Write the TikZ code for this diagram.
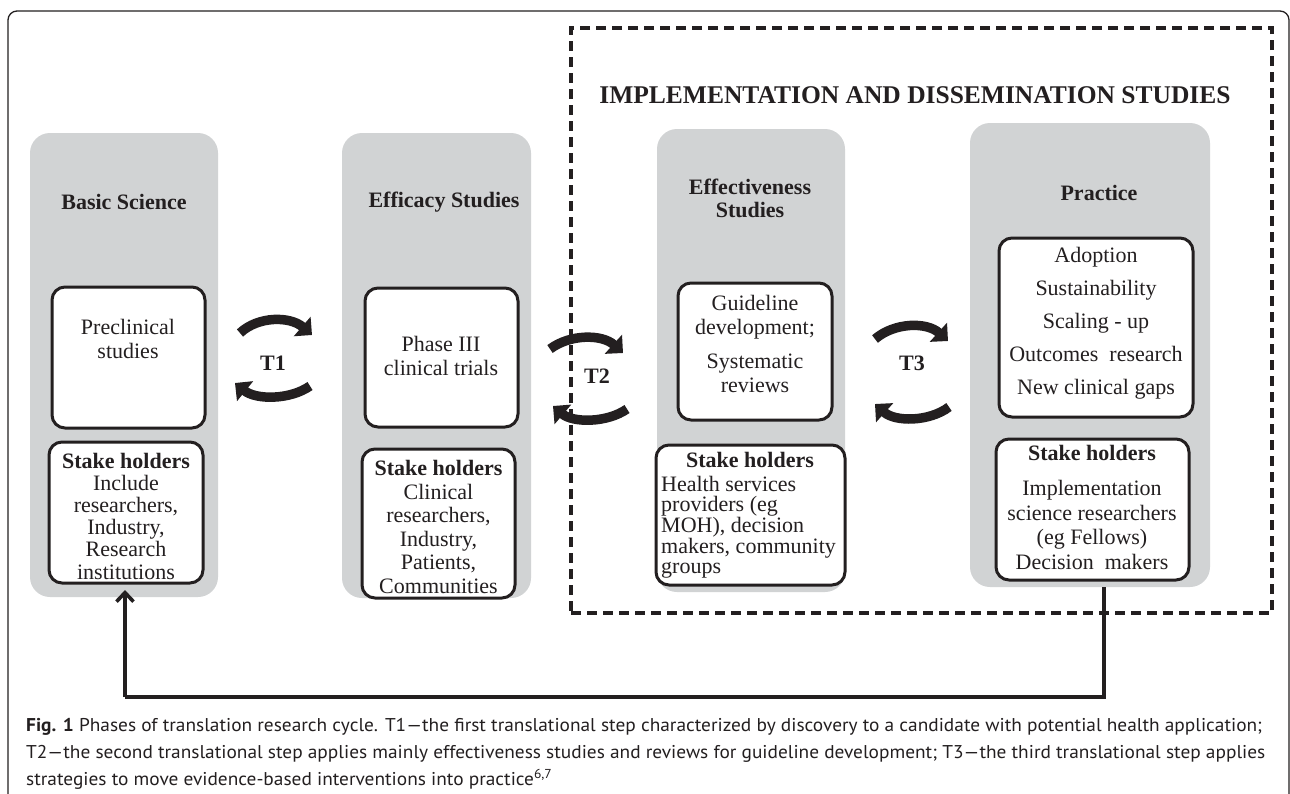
\documentclass[tikz,border=0pt]{standalone}
\usepackage{fontspec}
\usepackage{graphicx}
\setmainfont{Liberation Serif}
\newfontfamily\capfont{PT Sans}
\usetikzlibrary{arrows.meta}
\definecolor{gcol}{RGB}{209,211,212}
\definecolor{ink}{RGB}{35,31,32}
\newsavebox\capboxA
\newcommand\capscaled[1]{\scalebox{\capsc}[1]{#1}}
\begin{document}
\sbox\capboxA{\capfont\fontsize{18.5}{22}\selectfont\textbf{Fig. 1} Phases of translation research cycle. T1—the first translational step characterized by discovery to a candidate with potential health application;}%
\pgfmathsetmacro\capsc{1236/\the\wd\capboxA}%
\begin{tikzpicture}[x=1pt,y=-1pt,
  graycol/.style={fill=gcol, draw=none, rounded corners=20pt, inner sep=0pt},
  wbox/.style={fill=white, draw=ink, line width=3pt, rounded corners=13pt, inner sep=0pt},
  lbl/.style={font=\fontsize{22}{24}\selectfont\bfseries, text=ink, inner sep=0pt},
  txt/.style={font=\fontsize{22}{24}\selectfont, text=ink, align=center, inner sep=0pt},
  tarrow/.style={draw=ink, line width=9.5pt, -{Triangle[length=13pt,width=25pt]}},
  conn/.style={draw=ink, line width=3.6pt},
  dashbox/.style={draw=ink, line width=3.2pt, dash pattern=on 10pt off 6pt, inner sep=0pt},
  captext/.style={font=\capfont\fontsize{18.5}{22}\selectfont, text=ink, inner sep=0pt, anchor=base west}
]
\useasboundingbox (0,0) rectangle (1290,793);
\fill[white] (0,0) rectangle (1290,793);
% outer frame
\draw[ink, line width=1.3pt, rounded corners=9pt] (8,800) -- (8,11) -- (1289,11) -- (1289,800);

% grey columns
\node[graycol, minimum width=188pt, minimum height=464pt] (c1) at (124,365) {};
\node[graycol, minimum width=189pt, minimum height=465pt] (c2) at (436.5,365.5) {};
\node[graycol, minimum width=188pt, minimum height=463pt] (c3) at (751,360.5) {};
\node[graycol, minimum width=240pt, minimum height=464pt] (c4) at (1090,355) {};

% column titles
\node[lbl] (h1) at (124,202) {Basic Science};
\node[lbl] (h2) at (444,202) {Efficacy Studies};
\node[lbl, align=center, font=\fontsize{22}{23}\selectfont\bfseries] (h3) at (750,198) {Effectiveness\\Studies};
\node[lbl] (h4) at (1099,193) {Practice};

% white boxes
\node[wbox, minimum width=153pt, minimum height=141pt] (b1) at (128.5,357.5) {};
\node[wbox, minimum width=154pt, minimum height=141pt] (s1) at (126,512.5) {};
\node[wbox, minimum width=153pt, minimum height=139pt] (b2) at (441.5,357.5) {};
\node[wbox, minimum width=153pt, minimum height=149pt] (s2) at (438.5,523.5) {};
\node[wbox, minimum width=154pt, minimum height=137pt] (b3) at (755,351.5) {};
\node[wbox, minimum width=189pt, minimum height=140pt] (s3) at (750.5,515) {};
\node[wbox, minimum width=194pt, minimum height=179pt] (b4) at (1096,327.5) {};
\node[wbox, minimum width=193pt, minimum height=141pt] (s4) at (1092.5,509.5) {};

% box texts
\node[txt] (b1t) at (128,339) {Preclinical\\studies};
\node[txt] (b2t) at (441,356) {Phase III\\clinical trials};
\node[txt] (b3ta) at (755,317) {Guideline\\development;};
\node[txt] (b3tb) at (755,373) {Systematic\\reviews};
\node[txt, font=\fontsize{22}{33}\selectfont] (b4t) at (1096,323) {Adoption\\Sustainability\\Scaling - up\\Outcomes\ \ research\\New clinical gaps};

\node[txt, font=\fontsize{22}{22.2}\selectfont] (s1t) at (126,516) {\textbf{Stake holders}\\Include\\researchers,\\Industry,\\Research\\institutions};
\node[txt, font=\fontsize{22}{23.6}\selectfont] (s2t) at (438.5,527) {\textbf{Stake holders}\\Clinical\\researchers,\\Industry,\\Patients,\\Communities};
\node[lbl] (s3h) at (750,460) {Stake holders};
\node[txt, align=left, anchor=west, font=\fontsize{22}{19.8}\selectfont] (s3t) at (661,527) {Health services\\providers (eg\\MOH), decision\\makers, community\\groups};
\node[lbl] (s4h) at (1092,453) {Stake holders};
\node[txt, font=\fontsize{22}{24.7}\selectfont] (s4t) at (1092,525) {Implementation\\science researchers\\(eg Fellows)\\Decision\ \ makers};

% title
\node[lbl, font=\fontsize{25.5}{28}\selectfont\bfseries] (title) at (915,95) {IMPLEMENTATION AND DISSEMINATION STUDIES};

% T arrows
\coordinate (t1a) at (240,333); \coordinate (t1b) at (312,335);
\coordinate (t1c) at (310,386); \coordinate (t1d) at (235,383);
\draw[tarrow] (t1a) .. controls (258,316) and (290,316) .. (t1b);
\draw[tarrow] (t1c) .. controls (290,400) and (256,400) .. (t1d);
\node[lbl] (T1) at (273,363) {T1};

\coordinate (t2a) at (550,349); \coordinate (t2b) at (623,353);
\coordinate (t2c) at (627,409); \coordinate (t2d) at (553,406);
\draw[tarrow] (t2a) .. controls (570,334) and (602,334) .. (t2b);
\draw[tarrow] (t2c) .. controls (607,423) and (573,423) .. (t2d);
\node[lbl] (T2) at (597,376) {T2};

\coordinate (t3a) at (875,339); \coordinate (t3b) at (948,341);
\coordinate (t3c) at (949,407); \coordinate (t3d) at (875,404);
\draw[tarrow] (t3a) .. controls (895,322) and (927,322) .. (t3b);
\draw[tarrow] (t3c) .. controls (929,422) and (895,422) .. (t3d);
\node[lbl] (T3) at (912,363) {T3};

% dashed implementation box
\node[dashbox, minimum width=701pt, minimum height=585pt] (impl) at (921.5,320.5) {};

% feedback connector
\coordinate (fbR) at (1104,697);
\coordinate (fbL) at (125,697);
\coordinate (fbTip) at (125,590);
\draw[conn] (c4.south -| fbR) -- (fbR) -- (fbL);
\draw[conn, -{Straight Barb[length=9pt,width=17pt]}] (fbL) -- (fbTip);

% caption
\node[captext] (cap1) at (26,731) {\capscaled{\textbf{Fig. 1} Phases of translation research cycle. T1—the first translational step characterized by discovery to a candidate with potential health application;}};
\node[captext] (cap2) at (26,758) {\capscaled{T2—the second translational step applies mainly effectiveness studies and reviews for guideline development; T3—the third translational step applies}};
\node[captext] (cap3) at (26,785) {\capscaled{strategies to move evidence-based interventions into practice\textsuperscript{6,7}}};
\end{tikzpicture}
\end{document}
